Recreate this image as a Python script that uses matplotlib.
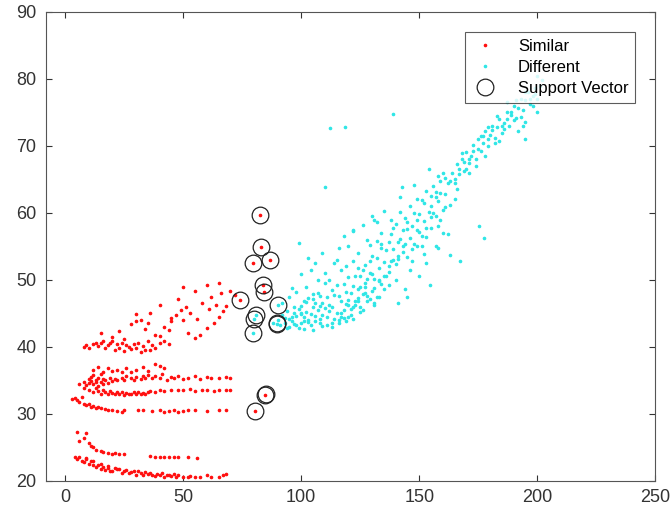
import numpy as np
import matplotlib.pyplot as plt

plt.rcParams['font.family'] = ['Liberation Sans', 'DejaVu Sans']

# ---- "Similar" class (red) ----
band_a_x = [4,5,6,7,8,9,10,11,12,13,14,15,16,17,18,19,20,22,24,25,27,28,30,32,33,35,37,38,40,42,43,45,47,48,50,52,53,55,57,60,62,65,67,68,
            9,12,15,18,21,23,26,29,31,34,36,39,41,44,46]
band_a_y = [23.6,23.3,23.5,23.0,22.8,23.2,22.5,22.9,22.3,22.0,22.4,21.8,22.0,21.6,21.9,21.5,21.4,21.7,21.2,21.5,21.1,21.3,20.9,21.2,20.8,21.0,20.9,20.7,20.9,20.6,20.8,20.7,20.5,20.8,20.6,20.5,20.7,20.5,20.6,20.8,20.5,20.6,20.9,21.0,
            23.4,23.0,22.5,22.2,21.9,21.8,21.6,21.4,21.5,21.3,21.2,21.0,21.1,20.9,21.0]

band_b_x = [5,9,6,8,10,11,12,13,15,16,18,20,21,23,25,36,38,40,42,44,46,48,52,56]
band_b_y = [27.3,27.2,26.0,26.4,25.6,25.2,25.0,24.6,24.4,24.3,24.1,24.0,24.2,24.0,24.0,23.7,23.6,23.6,23.6,23.5,23.6,23.5,23.5,23.4]

band_c_x = [3,4,5,6,7,8,9,10,11,12,13,14,15,17,18,20,22,24,25,31,33,37,40,42,44,46,48,50,52,55,60,65,68]
band_c_y = [32.2,32.3,32.0,31.8,32.5,31.5,31.3,31.5,31.0,31.2,30.9,31.0,30.8,30.7,30.5,30.6,30.4,30.2,30.5,30.5,30.6,30.4,30.5,30.3,30.4,30.5,30.3,30.4,30.6,30.5,30.4,30.5,30.6]

band_d_x = [8,10,12,13,14,15,16,17,18,19,20,21,22,23,24,25,26,27,28,29,30,31,32,33,34,35,36,38,40,42,45,48,50,53,55,58,60,63,65,68,70]
band_d_y = [33.8,33.5,33.2,33.9,33.4,33.0,33.6,33.2,33.0,33.4,33.1,32.9,33.2,33.0,33.3,32.8,33.1,33.0,32.9,33.2,33.0,33.3,32.9,33.1,33.0,33.2,33.4,33.3,33.5,33.4,33.6,33.5,33.5,33.7,33.4,33.6,33.5,33.4,33.5,33.6,33.5]

band_e_x = [6,8,9,10,10,11,11,12,12,13,13,14,14,15,15,16,16,17,18,19,20,21,22,24,25,26,28,29,30,32,33,34,35,37,38,40,41,43,45,46,48,50,52,55,57,60,62,65,68,70]
band_e_y = [34.5,34.8,34.3,35.2,34.6,35.5,34.9,35.8,34.4,35.1,34.7,35.4,34.2,35.9,34.8,35.2,34.5,35.0,34.6,35.3,34.9,35.2,35.0,35.4,35.1,35.6,35.3,35.0,35.5,35.2,35.6,35.4,35.8,35.3,35.6,35.4,35.9,35.1,35.5,35.3,35.7,35.2,35.4,35.6,35.2,35.5,35.3,35.4,35.5,35.3]

band_f_x = [12,14,16,18,20,22,24,26,28,30,33,35,38,40,42]
band_f_y = [36.5,37.0,36.2,36.8,36.4,36.6,36.3,36.9,36.2,36.5,37.0,36.4,37.4,37.2,36.8]

band_g_x = [8,9,10,12,13,14,15,16,17,18,19,20,21,22,23,24,25,26,27,28,29,30,31,32,33,34,35,36,37,38,40,42,44]
band_g_y = [40.0,40.2,39.8,40.4,40.6,40.1,40.5,40.8,39.9,40.3,40.6,40.9,39.6,40.4,39.8,40.5,39.4,40.2,40.0,39.7,40.4,39.9,40.6,39.3,40.1,39.5,40.8,39.6,40.2,39.8,40.5,40.9,40.4]

upper_x = [15,20,23,28,30,32,34,36,38,40,42,44,45,47,48,49,50,51,52,53,55,56,57,58,60,61,62,63,64,65,66,67,68,70,72,30,25,35,45,55,60,50,40,65,
           82.5,83,87,79.8,83.8,84.1,74.1,80.5,84.8]
upper_y = [42.0,41.5,42.3,43.4,44.9,44.0,42.6,45.1,41.7,46.2,43.0,42.5,44.3,44.8,47.1,45.5,49.0,46.0,42.1,45.0,48.3,44.1,41.8,46.5,49.2,45.6,47.4,43.5,46.2,49.6,48.0,45.3,46.1,48.4,47.8,43.8,41.2,43.6,43.9,41.3,42.8,44.0,41.6,44.5,
           59.7,54.9,53.0,52.5,49.2,48.2,47.0,30.4,32.8]

# ---- "Different" class (cyan) ----
seg1_x = [88,90,91,92,93,94,95,95,96,97,97,98,99,100,100,101,101,102,103,103,104,105,105,106,107,107,108,109,109,110,110,92,95,98,100,102,104,106,108,110,96,99,103,107,101,105,109,94,97,100,
          90.1,80.7,80.1,79.8,89.7]
seg1_y = [43.5,44.0,43.2,44.8,43.6,45.3,42.9,44.2,43.8,45.0,43.4,44.6,42.8,43.5,46.1,44.4,42.6,45.2,43.7,47.3,44.9,42.5,46.0,43.8,45.5,48.0,44.2,46.6,43.1,45.8,49.5,46.5,47.4,48.2,50.8,49.0,51.4,52.5,47.6,51.0,48.8,55.5,53.2,50.0,46.8,47.9,54.0,42.8,46.0,44.9,
          46.3,44.8,44.1,42.1,43.4]

seg2_x = [111,112,113,114,115,115,116,117,117,118,119,119,120,120,121,122,122,123,124,124,125,125,126,127,127,128,129,129,130,130,131,132,132,133,134,134,135,135,
          112,114,116,118,120,122,124,126,128,130,132,134,113,117,121,125,129,133,115,119,123,127,131,135]
seg2_y = [44.5,46.2,43.6,47.8,45.1,49.3,44.0,46.8,51.5,45.5,48.2,43.8,47.0,50.4,45.6,49.1,52.8,46.3,48.6,54.0,45.2,50.5,47.9,52.2,49.6,46.8,51.0,55.2,48.3,53.6,50.2,47.5,55.8,51.8,49.4,57.0,52.6,48.7,
          50.0,52.5,54.8,56.5,55.0,57.3,51.8,58.2,56.0,59.5,58.6,55.4,42.9,44.4,44.8,46.0,47.1,49.8,53.0,52.0,46.9,48.0,46.2,60.3]

seg3_x = [136,137,138,139,140,140,141,142,143,143,144,145,146,146,147,148,149,149,150,151,152,152,153,154,155,155,156,157,158,158,159,160,160,161,162,163,
          138,142,146,150,154,158,162,140,144,148,152,156,160,137,141,145,149,153,157,161]
seg3_y = [54.5,51.2,56.8,53.0,58.4,52.3,55.6,60.2,54.1,57.5,59.3,53.4,56.2,61.0,58.0,55.3,62.0,57.4,59.8,56.6,61.5,58.8,63.2,60.1,57.8,62.5,64.0,59.6,61.8,65.5,63.0,60.5,66.0,62.8,64.4,61.2,
          59.0,62.4,51.5,50.5,66.6,58.0,56.8,50.0,48.6,64.2,53.8,60.0,57.0,49.2,46.5,47.4,55.0,52.5,55.0,60.8]

seg4_x = [164,165,166,167,168,169,170,171,172,173,174,175,176,177,178,179,180,181,182,183,184,185,186,187,188,189,190,191,192,193,194,195,196,197,198,199,200,201,202,
          166,170,174,178,182,186,190,194,198,168,176,184,192,200]
seg4_y = [66.0,64.5,67.3,65.8,68.0,66.2,69.1,67.4,68.5,70.2,68.0,71.0,69.3,70.5,72.2,70.0,71.6,73.0,71.2,72.8,74.0,71.9,73.4,75.0,73.0,74.6,76.0,74.2,75.6,77.0,75.3,76.8,78.0,76.2,77.5,78.6,77.0,79.0,79.8,
          63.5,66.5,67.0,68.5,70.5,72.5,73.8,73.0,76.0,69.0,71.5,70.8,72.2,75.0]

seg5_x = [93,96,98,99,101,102,104,105,106,108,109,111,112,113,114,116,117,118,119,120,121,122,123,124,125,126,127,128,129,130,
          131,132,133,134,136,137,138,139,141,142,144,145,147,148,150,151,153,155,157,159]
seg5_y = [44.3,44.5,43.2,45.6,43.9,46.7,43.3,47.2,44.6,46.1,44.8,47.4,45.3,48.5,44.2,47.6,45.0,49.4,46.4,44.5,48.0,46.0,50.5,47.3,48.9,51.4,49.0,47.6,52.8,50.8,
          48.8,53.2,50.0,54.8,50.6,55.6,52.8,57.8,53.5,56.1,55.4,58.6,54.6,60.0,57.2,61.9,56.4,59.4,62.3,64.8]

seg6_x = [100,103,106,108,111,113,116,118,120,122,124,126,128,131,133,135,137,139,141,143,145,147,149,151,153,155,157,159,161,163,165]
seg6_y = [45.0,44.0,46.6,43.6,43.2,45.9,43.5,44.3,46.2,44.1,46.8,45.5,50.2,46.6,47.4,50.6,52.0,54.6,53.1,55.0,57.6,52.8,59.0,55.1,57.8,61.0,63.1,58.9,65.2,64.7,62.0]

seg7_x = [165,167,169,171,173,175,177,179,181,183,185,187,189,191,193,195,197,199,171,179,187,195]
seg7_y = [65.0,66.5,67.6,66.0,69.2,69.5,71.4,71.0,72.3,74.4,73.0,74.0,75.0,76.8,74.3,78.0,77.0,77.8,68.0,72.8,76.5,73.5]

outlier_x = [112.4,118.7,138.7,110,154.5,163.2,167.2,175.3,177.3,158,195,200,122,131,142.7]
outlier_y = [72.6,72.8,74.8,63.9,49.2,53.7,52.8,58.0,56.3,54.8,71.0,80.5,57.5,59.0,63.9]

# ---- support vectors (circles) ----
sv_x = [82.5,83,87,79.8,83.8,84.1,74.1,90.1,80.7,80.1,79.8,89.7,89.9,84.8,85.0,80.5]
sv_y = [59.7,54.9,53.0,52.5,49.2,48.2,47.0,46.3,44.8,44.1,42.1,43.4,43.5,32.8,32.9,30.4]

sim_x = np.concatenate([band_a_x, band_b_x, band_c_x, band_d_x, band_e_x, band_f_x, band_g_x, upper_x])
sim_y = np.concatenate([band_a_y, band_b_y, band_c_y, band_d_y, band_e_y, band_f_y, band_g_y, upper_y])
diff_x = np.concatenate([seg1_x, seg2_x, seg3_x, seg4_x, seg5_x, seg6_x, seg7_x, outlier_x])
diff_y = np.concatenate([seg1_y, seg2_y, seg3_y, seg4_y, seg5_y, seg6_y, seg7_y, outlier_y])

fig = plt.figure(figsize=(6.7, 5.17), dpi=100)
ax = fig.add_axes([0.069, 0.070, 0.909, 0.907])

ax.plot(sim_x, sim_y, '.', color='#ff1010', markersize=3.2, label='Similar')
ax.plot(diff_x, diff_y, '.', color='#30e6e6', markersize=3.2, label='Different')
ax.plot(sv_x, sv_y, 'o', mfc='none', mec='#222222', markersize=12, mew=0.9, label='Support Vector')

ax.set_xlim(-8, 250)
ax.set_ylim(20, 90)
ax.set_xticks([0, 50, 100, 150, 200, 250])
ax.set_yticks([20, 30, 40, 50, 60, 70, 80, 90])
ax.tick_params(direction='in', top=True, right=True, labelsize=13, colors='#333333', length=4)
ax.tick_params(axis='y', pad=7)
ax.tick_params(axis='x', pad=6)
for s in ax.spines.values():
    s.set_color('#555555')
    s.set_linewidth(0.8)

leg = ax.legend(loc='upper right', fontsize=12, fancybox=False, edgecolor='#333333',
                borderaxespad=1.2, handletextpad=1.2, handlelength=1.6, labelspacing=0.38,
                borderpad=0.4)
leg.get_frame().set_linewidth(0.8)

fig.savefig('out.png', dpi=100)
